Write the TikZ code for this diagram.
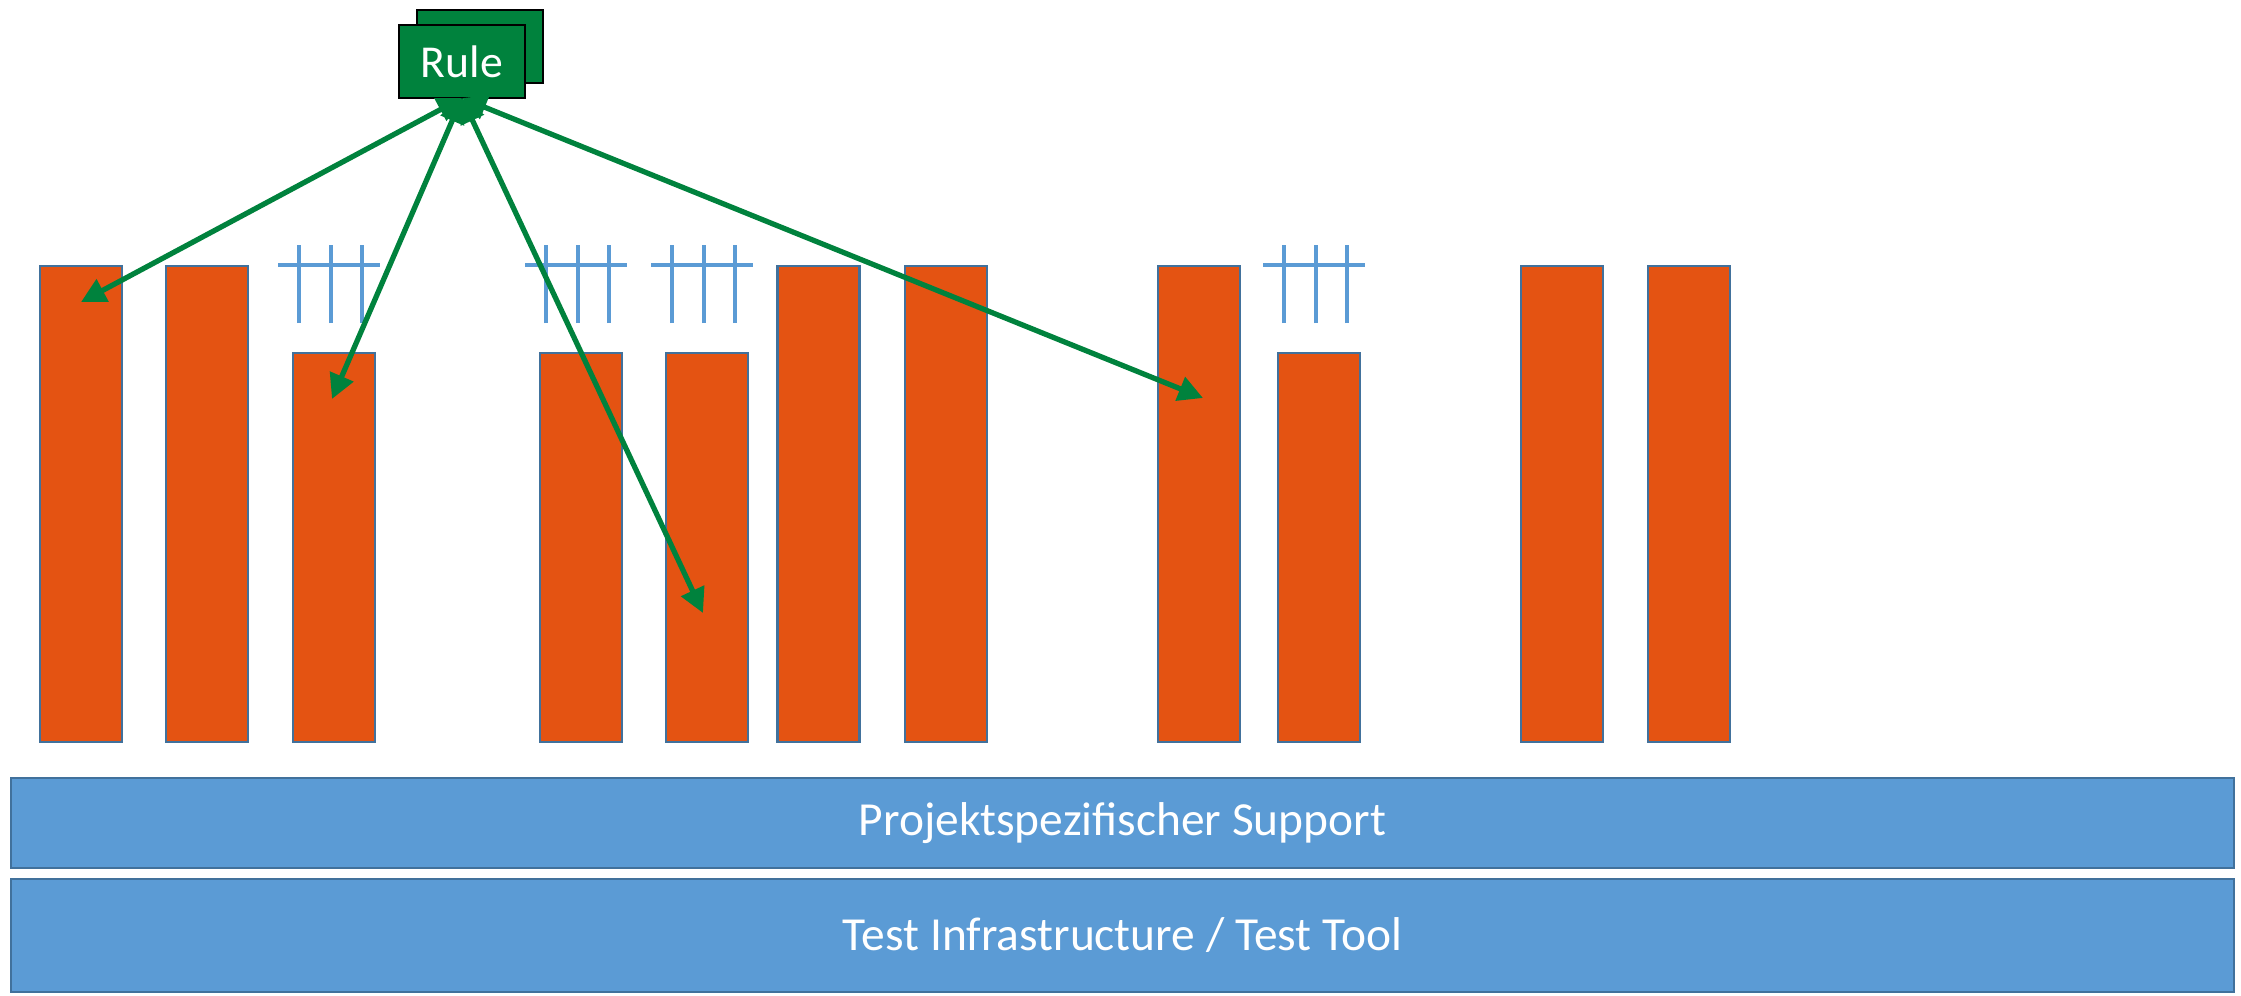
\documentclass[tikz,border=0pt]{standalone}
\usepackage{fontspec}
\setmainfont{Carlito}
\usepackage{tikz}
\usetikzlibrary{arrows.meta,positioning,calc}

\definecolor{balken}{RGB}{228,83,18}
\definecolor{rand}{RGB}{65,113,156}
\definecolor{blau}{RGB}{91,155,213}
\definecolor{gruen}{RGB}{0,130,61}

\begin{document}
\begin{tikzpicture}
\tikzset{
    %Pfeilspitze
    >={Triangle[length=7pt,width=7pt]},
    %Balken
    bar/.style={
           rectangle, inner sep=0pt, outer sep=0pt,
           draw=rand, line width=0.6pt,
           fill=balken,
           minimum width=0.82cm},
    hoch/.style={bar, minimum height=4.76cm},
    kurz/.style={bar, minimum height=3.89cm},
    %Schichten unten
    schicht/.style={
           rectangle, inner sep=0pt, outer sep=0pt,
           draw=rand, line width=0.6pt,
           fill=blau, text=white,
           font=\fontsize{13.5}{16}\selectfont,
           minimum width=22.23cm},
    %Regel
    regel/.style={
           rectangle, inner sep=0pt, outer sep=0pt,
           draw=black, line width=0.8pt,
           fill=gruen, text=white,
           font=\fontsize{13}{16}\selectfont,
           minimum width=1.26cm, minimum height=0.73cm},
    gitter/.style={draw=blau, line width=1.15pt},
    pfeil/.style={<->, draw=gruen, line width=1.5pt}
}
\useasboundingbox (0,0) rectangle (22.41,-9.95);

%Balken
\node[hoch, anchor=south west] (b1) at (0.40,-7.42) {};
\node[hoch, right=0.44cm of b1.south east, anchor=south west] (b2) {};
\node[kurz, right=0.45cm of b2.south east, anchor=south west] (b3) {};
\node[kurz, right=1.65cm of b3.south east, anchor=south west] (b4) {};
\node[kurz, right=0.44cm of b4.south east, anchor=south west] (b5) {};
\node[hoch, right=0.295cm of b5.south east, anchor=south west] (b6) {};
\node[hoch, right=0.455cm of b6.south east, anchor=south west] (b7) {};
\node[hoch, right=1.71cm of b7.south east, anchor=south west] (b8) {};
\node[kurz, right=0.38cm of b8.south east, anchor=south west] (b9) {};
\node[hoch, right=1.61cm of b9.south east, anchor=south west] (b10) {};
\node[hoch, right=0.45cm of b10.south east, anchor=south west] (b11) {};

%Gitter ueber den kurzen Balken
\foreach \b in {b3,b4,b5,b9}{
  \draw[gitter] ([shift={(-0.15,0.88)}]\b.north west) -- ++(1.02,0);
  \foreach \dx in {0.06,0.38,0.69}
    \draw[gitter] ([shift={(\dx,0.30)}]\b.north west) -- ++(0,0.78);
}

%Schichten
\node[schicht, minimum height=0.90cm] (support) at (11.225,-8.23) {Projektspezifischer Support};
\node[schicht, minimum height=1.13cm, below=0.11cm of support] (tool) {Test Infrastructure / Test Tool};

%Regel
\node[regel] (regel2) at (4.80,-0.465) {};
\node[regel] (regel) at ([shift={(-0.18,-0.15)}]regel2.center) {Rule};

%Pfeile
\coordinate (z1) at (0.81,-3.02);
\coordinate (z2) at (3.32,-3.99);
\coordinate (z3) at (7.03,-6.13);
\coordinate (z4) at (12.03,-3.98);
\draw[pfeil] (regel.south) -- (z1);
\draw[pfeil] (regel.south) -- (z2);
\draw[pfeil] (regel.south) -- (z3);
\draw[pfeil] (regel.south) -- (z4);
\end{tikzpicture}
\end{document}
